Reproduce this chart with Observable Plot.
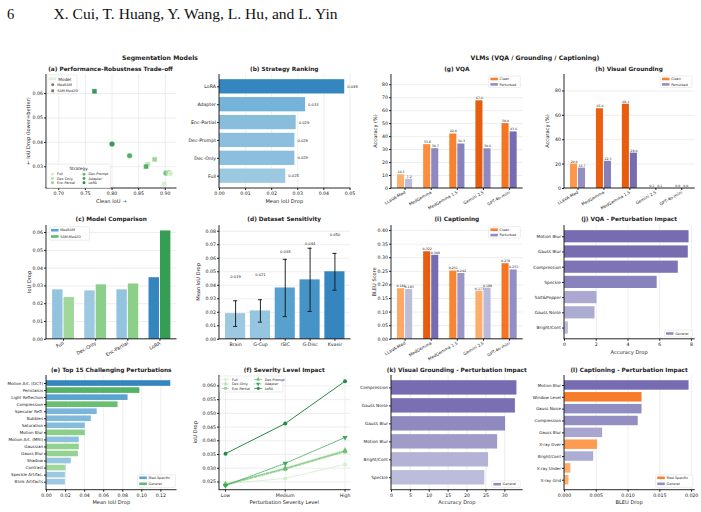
<!DOCTYPE html>
<html>
<head>
<meta charset="utf-8">
<script src="https://cdn.jsdelivr.net/npm/d3@7"></script>
<script src="https://cdn.jsdelivr.net/npm/@observablehq/plot@0.6"></script>
<style>
  html, body { margin: 0; padding: 0; background: #fff; overflow: hidden; }
  #page { position: relative; width: 701px; height: 512px; background: #fff; overflow: hidden; }
  #page svg { position: absolute; }
</style>
</head>
<body>
<div id="page"></div>
<script>
// ---------------- data ----------------
const strategies = ["Full", "Dec-Only", "Enc-Partial", "Dec-Prompt", "Adapter", "LoRA"];

// (a) clean IoU vs IoU drop, one point per model / strategy
const tradeModel    = ["SAM-Med2D", "MedSAM", "MedSAM", "SAM-Med2D", "SAM-Med2D", "SAM-Med2D", "MedSAM", "SAM-Med2D", "MedSAM", "MedSAM"];
const tradeStrategy = ["LoRA", "LoRA", "Adapter", "Enc-Partial", "Dec-Only", "Adapter", "Dec-Prompt", "Full", "Enc-Partial", "Full"];
const tradeClean    = [0.767, 0.800, 0.833, 0.880, 0.867, 0.864, 0.901, 0.898, 0.907, 0.910];
const tradeDrop     = [0.0609, 0.0393, 0.0345, 0.0330, 0.0310, 0.0301, 0.0274, 0.0230, 0.0276, 0.0272];

// (b) strategy ranking
const rankStrategy = ["LoRA", "Adapter", "Enc-Partial", "Dec-Prompt", "Dec-Only", "Full"];
const rankDrop     = [0.048, 0.033, 0.0294, 0.0289, 0.0289, 0.0254];

// (c) model comparison
const compStrategy = ["Full", "Dec-Only", "Enc-Partial", "LoRA"];
const compMedSAM   = [0.0278, 0.0272, 0.0278, 0.0346];
const compSAMMed2D = [0.0235, 0.0306, 0.0311, 0.0609];

// (d) dataset sensitivity
const datasets    = ["Brain", "G-Cup", "ISIC", "G-Disc", "Kvasir"];
const datasetMean = [0.019, 0.021, 0.038, 0.044, 0.050];
const datasetStd  = [0.0095, 0.0083, 0.0212, 0.0234, 0.0136];

// (e) top 15 perturbations
const topPert = ["Motion Art. (OCT)", "Peristalsis", "Light Reflection", "Compression", "Specular Refl.",
  "Bubbles", "Saturation", "Motion Blur", "Motion Art. (MRI)", "Gaussian", "Gauss Blur", "Shadow",
  "Contrast", "Speckle Artifac.", "Blink Artifacts"];
const topPertType = ["Med-Specific", "General", "Med-Specific", "General", "Med-Specific", "Med-Specific",
  "Med-Specific", "General", "Med-Specific", "General", "General", "Med-Specific", "General",
  "Med-Specific", "Med-Specific"];
const topPertDrop = [0.1304, 0.0980, 0.0856, 0.0751, 0.0532, 0.0470, 0.0407, 0.0407, 0.0344, 0.0344,
  0.0334, 0.0260, 0.0205, 0.0198, 0.0198];

// (f) severity levels
const severityLevels = ["Low", "Medium", "High"];
const sevFull       = [0.0244, 0.0263, 0.0314];
const sevDecOnly    = [0.0243, 0.0301, 0.0366];
const sevEncPartial = [0.0238, 0.0296, 0.0360];
const sevDecPrompt  = [0.0241, 0.0299, 0.0363];
const sevAdapter    = [0.0237, 0.0318, 0.0412];
const sevLoRA       = [0.0353, 0.0463, 0.0617];

// (g)(h)(i) VLM tasks
const vlmModels    = ["LLaVA-Med", "MedGemma", "MedGemma 1.5", "Gemini 2.5", "GPT-4o-mini"];
const vqaClean     = [10.5, 33.8, 42.0, 67.6, 50.0];
const vqaPerturbed = [7.2, 30.7, 34.3, 30.6, 43.6];
const vgClean      = [20.0, 65.4, 69.1, 0.1, 0.0];
const vgPerturbed  = [16.7, 22.3, 29.0, 0.1, 0.0];
const capClean     = [0.186, 0.322, 0.251, 0.177, 0.278];
const capPerturbed = [0.183, 0.309, 0.242, 0.188, 0.255];

// (j) VQA perturbation impact
const vqaPert     = ["Motion Blur", "Gauss Blur", "Compression", "Speckle", "Salt&Pepper", "Gauss Noise", "Bright/Cont"];
const vqaPertDrop = [7.85, 7.80, 7.17, 5.84, 2.05, 1.92, 0.25];

// (k) grounding perturbation impact
const vgPert     = ["Compression", "Gauss Noise", "Gauss Blur", "Motion Blur", "Bright/Cont", "Speckle"];
const vgPertDrop = [33.2, 32.8, 30.2, 28.1, 25.7, 24.7];

// (l) captioning perturbation impact
const capPert     = ["Motion Blur", "Window Level", "Gauss Noise", "Compression", "Gauss Blur", "X-ray Over",
  "Bright/Cont", "X-ray Under", "X-ray Grid"];
const capPertType = ["General", "Med-Specific", "General", "General", "General", "Med-Specific", "General",
  "Med-Specific", "Med-Specific"];
const capPertDrop = [0.0196, 0.0122, 0.0122, 0.0116, 0.0060, 0.0052, 0.0046, 0.0010, 0.0007];

// ---------------- helpers ----------------
const FONT = "'DejaVu Sans', sans-serif";
const INK = "#222";
const GRID = "#e3e3e3";
const TICK_FS = 4.7;
const page = document.getElementById("page");

const shade = (scheme, t) => scheme(0.375 + 0.3 * t);
const legendShade = scheme => scheme(0.55);
function normalizer(values) {
  const lo = d3.min(values), hi = d3.max(values);
  return v => (hi > lo ? (v - lo) / (hi - lo) : 0);
}
const strategyColor = s => d3.interpolateGreens(0.2 + 0.11 * strategies.indexOf(s));

// frame columns / rows of the 4 x 3 grid of axes
const C1 = [46, 176.5], C2 = [218.5, 350], C3 = [391, 522.7], C4 = [563.7, 694.5];
const R1 = [74, 188], R2 = [225, 338.8], R3 = [374.8, 489.5];

function panel([x0, x1], [y0, y1], options) {
  const m = {l: 46, r: 16, t: 8, b: 30};
  const svg = Plot.plot({
    width: x1 - x0 + m.l + m.r,
    height: y1 - y0 + m.t + m.b,
    marginLeft: m.l, marginRight: m.r, marginTop: m.t, marginBottom: m.b,
    style: {fontFamily: FONT, fontSize: TICK_FS + "px", color: INK, background: "none", overflow: "visible"},
    color: {type: "identity"},
    ...options
  });
  svg.style.left = (x0 - m.l) + "px";
  svg.style.top = (y0 - m.t) + "px";
  // left and bottom spines
  const g = d3.select(svg).append("g").attr("stroke", "#111").attr("stroke-width", 0.9);
  g.append("line").attr("x1", m.l).attr("x2", m.l).attr("y1", m.t).attr("y2", m.t + y1 - y0);
  g.append("line").attr("x1", m.l - 0.45).attr("x2", m.l + x1 - x0).attr("y1", m.t + y1 - y0).attr("y2", m.t + y1 - y0);
  page.append(svg);
  return svg;
}
const axX = o => Plot.axisX({tickSize: 2, tickPadding: 1.5, fontSize: TICK_FS, label: null, ...o});
const axY = o => Plot.axisY({tickSize: 2, tickPadding: 1.5, fontSize: TICK_FS, label: null, ...o});
const grX = ticks => Plot.gridX({ticks, stroke: GRID, strokeOpacity: 1, strokeWidth: 0.6});
const grY = ticks => Plot.gridY({ticks, stroke: GRID, strokeOpacity: 1, strokeWidth: 0.6});
const steps = (a, b, s) => d3.range(Math.round((b - a) / s) + 1).map(i => +(a + i * s).toFixed(6));

// ---------------- (a) trade-off scatter ----------------
const tradeTable = tradeModel.map((model, i) => ({model, strategy: tradeStrategy[i], clean: tradeClean[i], drop: tradeDrop[i]}));
panel(C1, R1, {
  x: {domain: [0.677, 0.922]},
  y: {domain: [0.0211, 0.0678]},
  symbol: {domain: ["MedSAM", "SAM-Med2D"], range: ["circle", "square"]},
  marks: [
    grX(steps(0.70, 0.90, 0.05)), grY(steps(0.03, 0.06, 0.01)),
    Plot.dot(tradeTable, {x: "clean", y: "drop", symbol: "model", r: 2.8,
      fill: d => strategyColor(d.strategy), fillOpacity: 0.9, stroke: "white", strokeWidth: 0.4}),
    axX({ticks: steps(0.70, 0.90, 0.05), tickFormat: d3.format(".2f")}),
    axY({ticks: steps(0.03, 0.06, 0.01), tickFormat: d3.format(".2f")})
  ]
});

// ---------------- (b) strategy ranking ----------------
const rankTable = rankStrategy.map((name, i) => ({name, drop: rankDrop[i]}));
const nRank = normalizer(rankDrop);
panel(C2, R1, {
  x: {domain: [0, d3.max(rankDrop) * 1.05]},
  y: {type: "band", domain: rankStrategy, paddingInner: 0.2, paddingOuter: 0.29, round: false},
  marks: [
    grX(steps(0, 0.05, 0.01)),
    Plot.barX(rankTable, {y: "name", x: "drop", fill: d => shade(d3.interpolateBlues, nRank(d.drop))}),
    Plot.text(rankTable, {y: "name", x: "drop", text: d => d.drop.toFixed(3), dx: 2.5, textAnchor: "start", fontSize: 3.7}),
    axX({ticks: steps(0, 0.05, 0.01), tickFormat: d3.format(".2f")}),
    axY({})
  ]
});

// ---------------- (c) model comparison ----------------
{
  const table = compStrategy.map((s, i) => ({s, med: compMedSAM[i], sam: compSAMMed2D[i]}));
  const nMed = normalizer(compMedSAM), nSam = normalizer(compSAMMed2D);
  const pi = 0.32, po = 0.19, W = C1[1] - C1[0];
  const bw = W / (compStrategy.length - pi + 2 * po) * (1 - pi);
  panel(C1, R2, {
    x: {type: "band", domain: compStrategy, paddingInner: pi, paddingOuter: po, round: false},
    y: {domain: [0, d3.max(compSAMMed2D) * 1.05]},
    marks: [
      grY(steps(0, 0.06, 0.01)),
      Plot.barY(table, {x: "s", y: "med", fill: d => shade(d3.interpolateBlues, nMed(d.med)), insetRight: bw / 2 + 0.5}),
      Plot.barY(table, {x: "s", y: "sam", fill: d => shade(d3.interpolateGreens, nSam(d.sam)), insetLeft: bw / 2 + 0.5}),
      axX({tickRotate: -30}),
      axY({ticks: steps(0, 0.06, 0.01), tickFormat: d3.format(".2f")})
    ]
  });
}

// ---------------- (d) dataset sensitivity ----------------
{
  const table = datasets.map((name, i) => ({name, mean: datasetMean[i], std: datasetStd[i]}));
  const nMean = normalizer(datasetMean);
  panel(C2, R2, {
    x: {type: "band", domain: datasets, paddingInner: 0.19, paddingOuter: 0.243, round: false},
    y: {domain: [0, d3.max(table, d => d.mean + d.std) * 1.25]},
    marks: [
      grY(steps(0, 0.08, 0.01)),
      Plot.barY(table, {x: "name", y: "mean", fill: d => shade(d3.interpolateBlues, nMean(d.mean))}),
      Plot.ruleX(table, {x: "name", y1: d => d.mean - d.std, y2: d => d.mean + d.std, stroke: "#111", strokeWidth: 0.9}),
      Plot.tickY(table, {x: "name", y: d => d.mean - d.std, stroke: "#111", strokeWidth: 0.9, insetLeft: 8, insetRight: 8}),
      Plot.tickY(table, {x: "name", y: d => d.mean + d.std, stroke: "#111", strokeWidth: 0.9, insetLeft: 8, insetRight: 8}),
      Plot.text(table, {x: "name", y: d => d.mean + 0.027, text: d => d.mean.toFixed(3), fontSize: 3.7}),
      axX({}),
      axY({ticks: steps(0, 0.08, 0.01), tickFormat: d3.format(".2f")})
    ]
  });
}

// ---------------- (e) top 15 perturbations ----------------
{
  const table = topPert.map((name, i) => ({name, type: topPertType[i], drop: topPertDrop[i]}));
  const n = normalizer(topPertDrop);
  panel(C1, R3, {
    x: {domain: [0, d3.max(topPertDrop) * 1.05]},
    y: {type: "band", domain: topPert, paddingInner: 0.2, paddingOuter: 0.74, round: false},
    marks: [
      grX(steps(0, 0.12, 0.02)),
      Plot.barX(table, {y: "name", x: "drop",
        fill: d => shade(d.type === "General" ? d3.interpolateGreens : d3.interpolateBlues, n(d.drop))}),
      axX({ticks: steps(0, 0.12, 0.02), tickFormat: d3.format(".2f")}),
      axY({fontSize: 4.1})
    ]
  });
}

// ---------------- (f) severity impact ----------------
{
  const series = {"Full": sevFull, "Dec-Only": sevDecOnly, "Enc-Partial": sevEncPartial,
    "Dec-Prompt": sevDecPrompt, "Adapter": sevAdapter, "LoRA": sevLoRA};
  const look = {
    "Full":        {dash: null,    symbol: "circle",   rotate: 0},
    "Dec-Only":    {dash: "3,1.2", symbol: "diamond",  rotate: 0},
    "Enc-Partial": {dash: "3,1.2", symbol: "square",   rotate: 0},
    "Dec-Prompt":  {dash: "3,1,1,1", symbol: "triangle", rotate: 0},
    "Adapter":     {dash: "1,1",   symbol: "triangle", rotate: 180},
    "LoRA":        {dash: null,    symbol: "circle",   rotate: 0}
  };
  const marks = [grX(severityLevels), grY(steps(0.025, 0.060, 0.005))];
  for (const s of strategies) {
    const rows = severityLevels.map((level, i) => ({level, drop: series[s][i]}));
    const c = strategyColor(s);
    marks.push(Plot.line(rows, {x: "level", y: "drop", stroke: c, strokeWidth: s === "LoRA" ? 1 : 0.85,
      strokeDasharray: look[s].dash}));
    marks.push(Plot.dot(rows, {x: "level", y: "drop", fill: c, symbol: look[s].symbol, rotate: look[s].rotate, r: 2}));
  }
  marks.push(axX({}), axY({ticks: steps(0.025, 0.060, 0.005), tickFormat: d3.format(".3f")}));
  panel(C2, R3, {
    x: {type: "point", domain: severityLevels, padding: 0.1, round: false},
    y: {domain: [0.0220, 0.0638]},
    marks
  });
}

// ---------------- (g)(h)(i) grouped clean / perturbed bars ----------------
function grouped(cols, rows, clean, pert, yMax, yTicks, yFmt, labelFmt) {
  const table = vlmModels.map((model, i) => ({model, clean: clean[i], pert: pert[i]}));
  const nc = normalizer(clean), np = normalizer(pert);
  const pi = 0.42, po = 0.23, W = cols[1] - cols[0];
  const bw = W / (vlmModels.length - pi + 2 * po) * (1 - pi);
  panel(cols, rows, {
    x: {type: "band", domain: vlmModels, paddingInner: pi, paddingOuter: po, round: false},
    y: {domain: [0, yMax]},
    marks: [
      grY(yTicks),
      Plot.barY(table, {x: "model", y: "clean", fill: d => shade(d3.interpolateOranges, nc(d.clean)), insetRight: bw / 2 + 0.5}),
      Plot.barY(table, {x: "model", y: "pert", fill: d => shade(d3.interpolatePurples, np(d.pert)), insetLeft: bw / 2 + 0.5}),
      Plot.text(table, {x: "model", y: "clean", text: d => labelFmt(d.clean), dx: -bw / 4 - 0.25, dy: -2.6, fontSize: 3.2}),
      Plot.text(table, {x: "model", y: "pert", text: d => labelFmt(d.pert), dx: bw / 4 + 0.25, dy: -2.6, fontSize: 3.2}),
      axX({tickRotate: -30, fontSize: 4.2}),
      axY({ticks: yTicks, tickFormat: yFmt})
    ]
  });
}
grouped(C3, R1, vqaClean, vqaPerturbed, d3.max(vqaClean) * 1.3, steps(0, 80, 10), d3.format("d"), v => v.toFixed(1));
grouped(C4, R1, vgClean, vgPerturbed, 93.5, steps(0, 80, 20), d3.format("d"), v => v.toFixed(1));
grouped(C3, R2, capClean, capPerturbed, d3.max(capClean) * 1.3, steps(0, 0.40, 0.05), d3.format(".2f"), v => v.toFixed(3));

// ---------------- (j)(k)(l) perturbation impact bars ----------------
function impact(cols, rows, names, drops, types, ticks, fmt, yFs) {
  const table = names.map((name, i) => ({name, drop: drops[i], type: types ? types[i] : "General"}));
  const n = normalizer(drops);
  const po = 0.05 * (names.length - 0.2);
  panel(cols, rows, {
    x: {domain: [0, d3.max(drops) * 1.05]},
    y: {type: "band", domain: names, paddingInner: 0.2, paddingOuter: po, round: false},
    marks: [
      grX(ticks),
      Plot.barX(table, {y: "name", x: "drop",
        fill: d => shade(d.type === "General" ? d3.interpolatePurples : d3.interpolateOranges, n(d.drop))}),
      axX({ticks, tickFormat: fmt}),
      axY({fontSize: yFs})
    ]
  });
}
impact(C4, R2, vqaPert, vqaPertDrop, null, steps(0, 8, 2), d3.format("d"), 4.3);
impact(C3, R3, vgPert, vgPertDrop, null, steps(0, 30, 5), d3.format("d"), 4.3);
impact(C4, R3, capPert, capPertDrop, capPertType, steps(0, 0.020, 0.005), d3.format(".3f"), 4.1);

// ---------------- text layer: header, titles, axis labels, legends ----------------
const ov = d3.create("svg").attr("width", 701).attr("height", 512)
  .style("left", "0px").style("top", "0px").style("font-family", FONT);
function label(x, y, str, size, o = {}) {
  const t = ov.append("text").attr("x", x).attr("y", y).attr("font-size", size)
    .attr("text-anchor", o.anchor || "middle").attr("dy", "0.35em").attr("fill", o.fill || INK).text(str);
  if (o.bold) t.attr("font-weight", "bold");
  if (o.rotate) t.attr("transform", `rotate(${o.rotate},${x},${y})`);
  if (o.family) t.attr("font-family", o.family);
  if (o.length) t.attr("textLength", o.length).attr("lengthAdjust", "spacingAndGlyphs");
  return t;
}
const mid = ([a, b]) => (a + b) / 2;

// running header
label(7, 13.5, "6", 14.5, {anchor: "start", family: "'Liberation Serif', serif", fill: "#111"});
label(53.5, 13.5, "X. Cui, T. Huang, Y. Wang, L. Hu, and L. Yin", 14.5,
  {anchor: "start", family: "'Liberation Serif', serif", fill: "#111", length: 284});

// group headers
label(160, 58, "Segmentation Models", 6.2, {bold: true});
label(535, 58, "VLMs (VQA / Grounding / Captioning)", 6.2, {bold: true});

// panel titles
const TFS = 5.8;
label(110.5, 68.5, "(a) Performance-Robustness Trade-off", TFS, {bold: true});
label(mid(C2), 68.5, "(b) Strategy Ranking", TFS, {bold: true});
label(mid(C3), 68.5, "(g) VQA", TFS, {bold: true});
label(mid(C4), 68.5, "(h) Visual Grounding", TFS, {bold: true});
label(mid(C1), 219.4, "(c) Model Comparison", TFS, {bold: true});
label(mid(C2), 219.4, "(d) Dataset Sensitivity", TFS, {bold: true});
label(mid(C3), 219.4, "(i) Captioning", TFS, {bold: true});
label(mid(C4), 219.4, "(j) VQA - Perturbation Impact", TFS, {bold: true});
label(mid(C1), 370, "(e) Top 15 Challenging Perturbations", TFS, {bold: true});
label(mid(C2), 370, "(f) Severity Level Impact", TFS, {bold: true});
label(mid(C3), 370, "(k) Visual Grounding - Perturbation Impact", TFS, {bold: true});
label(mid(C4), 370, "(l) Captioning - Perturbation Impact", TFS, {bold: true});

// axis labels
const AFS = 5.1;
label(mid(C1), 201, "Clean IoU \u2192", AFS);
label(28.5, mid(R1), "\u2190 IoU Drop (lower=better)", AFS, {rotate: -90});
label(mid(C2), 201, "Mean IoU Drop", AFS);
label(29, mid(R2), "IoU Drop", AFS, {rotate: -90});
label(198, mid(R2), "Mean IoU Drop", AFS, {rotate: -90});
label(mid(C1), 502.7, "Mean IoU Drop", AFS);
label(mid(C2), 502.7, "Perturbation Severity Level", AFS);
label(195, mid(R3), "IoU Drop", AFS, {rotate: -90});
label(375.5, mid(R1), "Accuracy (%)", AFS, {rotate: -90});
label(547.5, mid(R1), "Accuracy (%)", AFS, {rotate: -90});
label(374, mid(R2), "BLEU Score", AFS, {rotate: -90});
label(mid(C4), 352, "Accuracy Drop", AFS);
label(mid(C3), 502.7, "Accuracy Drop", AFS);
label(mid(C4), 502.7, "BLEU Drop", AFS);

// legends
const LFS = 3.4;
function box(x0, y0, x1, y1) {
  ov.append("rect").attr("x", x0).attr("y", y0).attr("width", x1 - x0).attr("height", y1 - y0).attr("rx", 0.8)
    .attr("fill", "white").attr("fill-opacity", 0.85).attr("stroke", "#d2d2d2").attr("stroke-width", 0.4);
}
function patchItem(x, y, color, text) {
  ov.append("rect").attr("x", x).attr("y", y - 1.3).attr("width", 7.5).attr("height", 2.6).attr("fill", color);
  label(x + 9.2, y, text, LFS, {anchor: "start"});
}
function symbolItem(x, y, type, color, text, o = {}) {
  if (o.line) {
    const l = ov.append("line").attr("x1", x - 4).attr("x2", x + 4).attr("y1", y).attr("y2", y)
      .attr("stroke", color).attr("stroke-width", 0.8);
    if (o.dash) l.attr("stroke-dasharray", o.dash);
  }
  ov.append("path").attr("d", d3.symbol(type, o.size || 6)()).attr("fill", color)
    .attr("transform", `translate(${x},${y}) rotate(${o.rotate || 0})`);
  label(x + (o.line ? 6.5 : 4.5), y, text, LFS, {anchor: "start"});
}

// (a) model + strategy legends
box(47, 75, 77, 93.5);
ov.append("rect").attr("x", 48.5).attr("y", 77.3).attr("width", 7.5).attr("height", 3).attr("fill", "#e3efe0");
label(58.3, 79, "Model", 4.3, {anchor: "start"});
symbolItem(52.7, 84.8, d3.symbolCircle, "#777", "MedSAM", {size: 7});
symbolItem(52.7, 90.8, d3.symbolSquare, "#777", "SAM-Med2D", {size: 8});
box(46.8, 164.2, 110.5, 188);
label(78.6, 168.2, "Strategy", 4.3);
strategies.forEach((s, i) => {
  const col = Math.floor(i / 3), row = i % 3;
  symbolItem(52.5 + col * 31.5, 174.2 + row * 4.3, d3.symbolCircle, strategyColor(s), s, {size: 7});
});

// (c)
box(49.3, 226.7, 89.5, 240.2);
patchItem(51, 230.2, legendShade(d3.interpolateBlues), "MedSAM");
patchItem(51, 236.5, legendShade(d3.interpolateGreens), "SAM-Med2D");

// (e)
box(137.7, 474.8, 175.3, 487.4);
patchItem(139.3, 477.8, legendShade(d3.interpolateBlues), "Med-Specific");
patchItem(139.3, 483.8, legendShade(d3.interpolateGreens), "General");

// (f)
box(219.8, 376, 283, 392);
{
  const sym = {"Full": [d3.symbolCircle, 0, null], "Dec-Only": [d3.symbolDiamond, 0, "3,1.2"],
    "Enc-Partial": [d3.symbolSquare, 0, "3,1.2"], "Dec-Prompt": [d3.symbolTriangle, 0, "3,1,1,1"],
    "Adapter": [d3.symbolTriangle, 180, "1,1"], "LoRA": [d3.symbolCircle, 0, null]};
  strategies.forEach((s, i) => {
    const col = Math.floor(i / 3), row = i % 3;
    const [type, rot, dash] = sym[s];
    symbolItem(225.5 + col * 32.7, 379.4 + row * 4.5, type, strategyColor(s), s, {line: true, rotate: rot, dash, size: 7});
  });
}

// (g)(h)(i) clean / perturbed
for (const [x0, y0] of [[488.7, 76], [660.3, 76], [488.7, 226.7]]) {
  box(x0, y0, x0 + 31.6, y0 + 11.4);
  patchItem(x0 + 1.7, y0 + 3, legendShade(d3.interpolateOranges), "Clean");
  patchItem(x0 + 1.7, y0 + 8.4, legendShade(d3.interpolatePurples), "Perturbed");
}

// (j)(k) general only
box(664.3, 330.2, 692.5, 336.9);
patchItem(666, 333.5, legendShade(d3.interpolatePurples), "General");
box(491.7, 480.9, 520.2, 487.6);
patchItem(493.4, 484.2, legendShade(d3.interpolatePurples), "General");

// (l)
box(655.7, 474.8, 692.9, 487.4);
patchItem(657.3, 477.8, legendShade(d3.interpolateOranges), "Med-Specific");
patchItem(657.3, 483.8, legendShade(d3.interpolatePurples), "General");

page.append(ov.node());
</script>
</body>
</html>
